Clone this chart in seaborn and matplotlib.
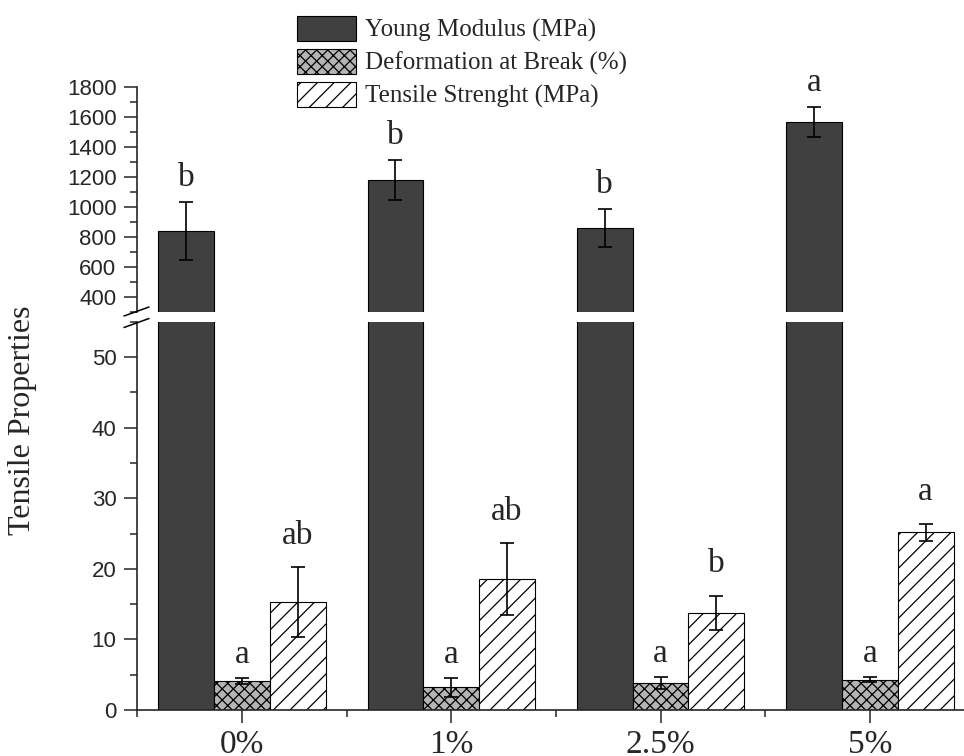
import matplotlib
matplotlib.use("Agg")
import matplotlib.pyplot as plt
from matplotlib.lines import Line2D
from matplotlib.patches import Patch
from matplotlib.ticker import MultipleLocator, FixedLocator
import numpy as np
import pandas as pd
import seaborn as sns

# ---- data -------------------------------------------------------------
loadings = ["0%", "1%", "2.5%", "5%"]
properties = ["Young Modulus (MPa)", "Deformation at Break (%)", "Tensile Strenght (MPa)"]

young = [842, 1178, 862, 1568]
young_err = [193, 132, 127, 100]
young_letters = ["b", "b", "b", "a"]

deform = [4.1, 3.2, 3.8, 4.3]
deform_err = [0.45, 1.35, 0.85, 0.4]
deform_letters = ["a", "a", "a", "a"]

tensile = [15.3, 18.5, 13.8, 25.2]
tensile_err = [4.9, 5.1, 2.4, 1.2]
tensile_letters = ["ab", "ab", "b", "a"]

df = pd.DataFrame({
    "Loading": loadings * 3,
    "Property": [properties[0]] * 4 + [properties[1]] * 4 + [properties[2]] * 4,
    "Value": young + deform + tensile,
})

# ---- style ------------------------------------------------------------
sns.set_style("ticks")
plt.rcParams["font.family"] = ["Liberation Serif", "DejaVu Serif"]
plt.rcParams["axes.linewidth"] = 1.2
plt.rcParams["hatch.linewidth"] = 0.9
plt.rcParams["hatch.color"] = "black"

faces = {properties[0]: "#404040", properties[1]: "#b4b4b4", properties[2]: "white"}
hatches = [None, "xxx", "//"]

W, H = 964, 756
fig = plt.figure(figsize=(W / 100, H / 100), dpi=100)


def box(left, top, right, bottom):
    return [left / W, 1 - bottom / H, (right - left) / W, (bottom - top) / H]


ax_top = fig.add_axes(box(137.3, 86.7, 964, 312.3))
ax_bot = fig.add_axes(box(137.3, 321.7, 964, 710))

for ax in (ax_top, ax_bot):
    sns.barplot(data=df, x="Loading", y="Value", hue="Property", order=loadings,
                hue_order=properties, palette=faces, saturation=1, width=0.8,
                edgecolor="black", linewidth=0.8, errorbar=None, legend=False, ax=ax)
    for cont, h in zip(ax.containers, hatches):
        if h:
            for bar in cont:
                bar.set_hatch(h)
    ax.set_xlabel("")
    ax.set_ylabel("")
    ax.set_xlim(-0.5, 3.45)
    sns.despine(ax=ax, top=True, right=True)
    ax.tick_params(axis="y", which="major", direction="out", length=9.5, width=1.1,
                   pad=5.5, labelsize=16)
    ax.tick_params(axis="y", which="minor", direction="out", length=5, width=1.1)

# upper part of the broken axis: Young modulus range
ax_top.set_ylim(300, 1800)
ax_top.yaxis.set_major_locator(FixedLocator(np.arange(400, 1801, 200)))
ax_top.yaxis.set_minor_locator(FixedLocator(np.arange(300, 1801, 100)))
ax_top.spines["bottom"].set_visible(False)
ax_top.tick_params(axis="x", which="both", bottom=False, labelbottom=False)

# lower part of the broken axis
ax_bot.set_ylim(0, 55)
ax_bot.yaxis.set_major_locator(MultipleLocator(10))
ax_bot.yaxis.set_minor_locator(MultipleLocator(5))
ax_bot.xaxis.set_minor_locator(FixedLocator([-0.5, 0.5, 1.5, 2.5]))
ax_bot.tick_params(axis="x", which="major", direction="out", length=9.5, width=1.1,
                   pad=4.5, labelsize=24)
ax_bot.tick_params(axis="x", which="minor", direction="out", length=5, width=1.1)
for ax in (ax_top, ax_bot):
    for lab in ax.get_yticklabels():
        lab.set_family(["Liberation Sans", "DejaVu Sans"])


def annotate(ax, cont, vals, errs, letters, offset):
    xs = [b.get_x() + b.get_width() / 2 for b in cont]
    ax.errorbar(xs, vals, yerr=errs, fmt="none", ecolor="black", elinewidth=1.2,
                capsize=4.7, capthick=1.2, zorder=3)
    for x, v, e, t in zip(xs, vals, errs, letters):
        ax.annotate(t, xy=(x, v + e), xytext=(0, offset), textcoords="offset points",
                    ha="center", va="baseline", fontsize=24)


annotate(ax_top, ax_top.containers[0], young, young_err, young_letters, 11.5)
annotate(ax_bot, ax_bot.containers[1], deform, deform_err, deform_letters, 11)
annotate(ax_bot, ax_bot.containers[2], tensile, tensile_err, tensile_letters, 17)

# break marks on the y axis
for yc in (311.5, 323):
    fig.add_artist(Line2D([124 / W, 149 / W], [1 - (yc + 4.5) / H, 1 - (yc - 4.5) / H],
                          transform=fig.transFigure, color="black", lw=1.1))

fig.text(23 / W, 1 - 420 / H, "Tensile Properties", rotation=90, ha="center",
         va="center", fontsize=23)

handles = [Patch(facecolor=faces[p], edgecolor="black", hatch=h, linewidth=0.8)
           for p, h in zip(properties, hatches)]
fig.legend(handles, properties, loc="upper left", bbox_to_anchor=(297 / W, 1 - 16 / H),
           frameon=False, fontsize=18, borderpad=0, borderaxespad=0,
           handlelength=2.35, handleheight=1.17, labelspacing=0.26, handletextpad=0.38)

fig.savefig("out.png", dpi=100)
